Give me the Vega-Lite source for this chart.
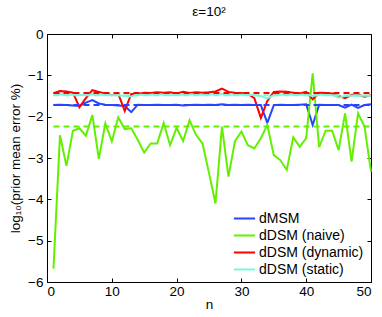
{
  "$schema": "https://vega.github.io/schema/vega-lite/v6.json",
  "width": 324,
  "height": 248,
  "autosize": {"type": "none"},
  "padding": {"left": 47, "top": 34, "right": 11, "bottom": 35},
  "background": "white",
  "title": {"text": "ε=10²", "fontSize": 13.5, "fontWeight": "normal", "font": "Liberation Sans", "color": "black", "offset": 9},
  "config": {
    "view": {"stroke": "black", "strokeWidth": 1},
    "axis": {"domain": false, "grid": false, "tickColor": "black", "tickSize": -4, "labelFont": "Liberation Sans", "labelFontSize": 13.5, "labelColor": "black", "titleFont": "Liberation Sans", "titleFontSize": 13.5, "titleFontWeight": "normal", "titleColor": "black"}
  },
  "datasets": {
    "lines": [
      {"n":1,"series":"dMSM","value":-1.72},{"n":2,"series":"dMSM","value":-1.71},{"n":3,"series":"dMSM","value":-1.72},{"n":4,"series":"dMSM","value":-1.73},{"n":5,"series":"dMSM","value":-1.74},{"n":6,"series":"dMSM","value":-1.66},{"n":7,"series":"dMSM","value":-1.6},{"n":8,"series":"dMSM","value":-1.68},{"n":9,"series":"dMSM","value":-1.71},{"n":10,"series":"dMSM","value":-1.72},
      {"n":11,"series":"dMSM","value":-1.73},{"n":12,"series":"dMSM","value":-1.74},{"n":13,"series":"dMSM","value":-1.89},{"n":14,"series":"dMSM","value":-1.71},{"n":15,"series":"dMSM","value":-1.72},{"n":16,"series":"dMSM","value":-1.72},{"n":17,"series":"dMSM","value":-1.71},{"n":18,"series":"dMSM","value":-1.72},{"n":19,"series":"dMSM","value":-1.72},{"n":20,"series":"dMSM","value":-1.71},
      {"n":21,"series":"dMSM","value":-1.73},{"n":22,"series":"dMSM","value":-1.72},{"n":23,"series":"dMSM","value":-1.71},{"n":24,"series":"dMSM","value":-1.72},{"n":25,"series":"dMSM","value":-1.71},{"n":26,"series":"dMSM","value":-1.72},{"n":27,"series":"dMSM","value":-1.7},{"n":28,"series":"dMSM","value":-1.72},{"n":29,"series":"dMSM","value":-1.71},{"n":30,"series":"dMSM","value":-1.72},
      {"n":31,"series":"dMSM","value":-1.71},{"n":32,"series":"dMSM","value":-1.72},{"n":33,"series":"dMSM","value":-1.72},{"n":34,"series":"dMSM","value":-2.15},{"n":35,"series":"dMSM","value":-1.72},{"n":36,"series":"dMSM","value":-1.71},{"n":37,"series":"dMSM","value":-1.72},{"n":38,"series":"dMSM","value":-1.72},{"n":39,"series":"dMSM","value":-1.71},{"n":40,"series":"dMSM","value":-1.7},
      {"n":41,"series":"dMSM","value":-2.2},{"n":42,"series":"dMSM","value":-1.71},{"n":43,"series":"dMSM","value":-1.72},{"n":44,"series":"dMSM","value":-1.72},{"n":45,"series":"dMSM","value":-1.72},{"n":46,"series":"dMSM","value":-1.78},{"n":47,"series":"dMSM","value":-1.71},{"n":48,"series":"dMSM","value":-1.79},{"n":49,"series":"dMSM","value":-1.72},{"n":50,"series":"dMSM","value":-1.7},

      {"n":1,"series":"dDSM (naive)","value":-5.68},{"n":2,"series":"dDSM (naive)","value":-2.45},{"n":3,"series":"dDSM (naive)","value":-3.19},{"n":4,"series":"dDSM (naive)","value":-2.34},{"n":5,"series":"dDSM (naive)","value":-2.28},{"n":6,"series":"dDSM (naive)","value":-2.46},{"n":7,"series":"dDSM (naive)","value":-1.96},{"n":8,"series":"dDSM (naive)","value":-3.02},{"n":9,"series":"dDSM (naive)","value":-2.16},{"n":10,"series":"dDSM (naive)","value":-2.6},
      {"n":11,"series":"dDSM (naive)","value":-2.02},{"n":12,"series":"dDSM (naive)","value":-2.3},{"n":13,"series":"dDSM (naive)","value":-2.28},{"n":14,"series":"dDSM (naive)","value":-2.56},{"n":15,"series":"dDSM (naive)","value":-2.87},{"n":16,"series":"dDSM (naive)","value":-2.65},{"n":17,"series":"dDSM (naive)","value":-2.65},{"n":18,"series":"dDSM (naive)","value":-2.15},{"n":19,"series":"dDSM (naive)","value":-2.69},{"n":20,"series":"dDSM (naive)","value":-2.27},
      {"n":21,"series":"dDSM (naive)","value":-2.59},{"n":22,"series":"dDSM (naive)","value":-2.09},{"n":23,"series":"dDSM (naive)","value":-2.44},{"n":24,"series":"dDSM (naive)","value":-2.65},{"n":25,"series":"dDSM (naive)","value":-3.36},{"n":26,"series":"dDSM (naive)","value":-4.1},{"n":27,"series":"dDSM (naive)","value":-2.24},{"n":28,"series":"dDSM (naive)","value":-3.45},{"n":29,"series":"dDSM (naive)","value":-2.6},{"n":30,"series":"dDSM (naive)","value":-2.36},
      {"n":31,"series":"dDSM (naive)","value":-2.69},{"n":32,"series":"dDSM (naive)","value":-2.77},{"n":33,"series":"dDSM (naive)","value":-2.52},{"n":34,"series":"dDSM (naive)","value":-2.2},{"n":35,"series":"dDSM (naive)","value":-2.93},{"n":36,"series":"dDSM (naive)","value":-3.05},{"n":37,"series":"dDSM (naive)","value":-3.29},{"n":38,"series":"dDSM (naive)","value":-2.5},{"n":39,"series":"dDSM (naive)","value":-2.73},{"n":40,"series":"dDSM (naive)","value":-2.52},
      {"n":41,"series":"dDSM (naive)","value":-0.95},{"n":42,"series":"dDSM (naive)","value":-2.74},{"n":43,"series":"dDSM (naive)","value":-2.34},{"n":44,"series":"dDSM (naive)","value":-2.34},{"n":45,"series":"dDSM (naive)","value":-2.81},{"n":46,"series":"dDSM (naive)","value":-1.92},{"n":47,"series":"dDSM (naive)","value":-3.09},{"n":48,"series":"dDSM (naive)","value":-1.92},{"n":49,"series":"dDSM (naive)","value":-2.24},{"n":50,"series":"dDSM (naive)","value":-3.33},

      {"n":1,"series":"dDSM (dynamic)","value":-1.43},{"n":2,"series":"dDSM (dynamic)","value":-1.38},{"n":3,"series":"dDSM (dynamic)","value":-1.39},{"n":4,"series":"dDSM (dynamic)","value":-1.42},{"n":5,"series":"dDSM (dynamic)","value":-1.77},{"n":6,"series":"dDSM (dynamic)","value":-1.55},{"n":7,"series":"dDSM (dynamic)","value":-1.36},{"n":8,"series":"dDSM (dynamic)","value":-1.4},{"n":9,"series":"dDSM (dynamic)","value":-1.44},{"n":10,"series":"dDSM (dynamic)","value":-1.48},
      {"n":11,"series":"dDSM (dynamic)","value":-1.45},{"n":12,"series":"dDSM (dynamic)","value":-1.86},{"n":13,"series":"dDSM (dynamic)","value":-1.45},{"n":14,"series":"dDSM (dynamic)","value":-1.45},{"n":15,"series":"dDSM (dynamic)","value":-1.42},{"n":16,"series":"dDSM (dynamic)","value":-1.43},{"n":17,"series":"dDSM (dynamic)","value":-1.41},{"n":18,"series":"dDSM (dynamic)","value":-1.42},{"n":19,"series":"dDSM (dynamic)","value":-1.41},{"n":20,"series":"dDSM (dynamic)","value":-1.44},
      {"n":21,"series":"dDSM (dynamic)","value":-1.4},{"n":22,"series":"dDSM (dynamic)","value":-1.43},{"n":23,"series":"dDSM (dynamic)","value":-1.41},{"n":24,"series":"dDSM (dynamic)","value":-1.42},{"n":25,"series":"dDSM (dynamic)","value":-1.41},{"n":26,"series":"dDSM (dynamic)","value":-1.39},{"n":27,"series":"dDSM (dynamic)","value":-1.32},{"n":28,"series":"dDSM (dynamic)","value":-1.4},{"n":29,"series":"dDSM (dynamic)","value":-1.42},{"n":30,"series":"dDSM (dynamic)","value":-1.43},
      {"n":31,"series":"dDSM (dynamic)","value":-1.45},{"n":32,"series":"dDSM (dynamic)","value":-1.55},{"n":33,"series":"dDSM (dynamic)","value":-2.03},{"n":34,"series":"dDSM (dynamic)","value":-1.62},{"n":35,"series":"dDSM (dynamic)","value":-1.4},{"n":36,"series":"dDSM (dynamic)","value":-1.39},{"n":37,"series":"dDSM (dynamic)","value":-1.4},{"n":38,"series":"dDSM (dynamic)","value":-1.42},{"n":39,"series":"dDSM (dynamic)","value":-1.44},{"n":40,"series":"dDSM (dynamic)","value":-1.4},
      {"n":41,"series":"dDSM (dynamic)","value":-1.58},{"n":42,"series":"dDSM (dynamic)","value":-1.42},{"n":43,"series":"dDSM (dynamic)","value":-1.43},{"n":44,"series":"dDSM (dynamic)","value":-1.44},{"n":45,"series":"dDSM (dynamic)","value":-1.5},{"n":46,"series":"dDSM (dynamic)","value":-1.55},{"n":47,"series":"dDSM (dynamic)","value":-1.47},{"n":48,"series":"dDSM (dynamic)","value":-1.47},{"n":49,"series":"dDSM (dynamic)","value":-1.52},{"n":50,"series":"dDSM (dynamic)","value":-1.48},

      {"n":1,"series":"dDSM (static)","value":-1.47},{"n":2,"series":"dDSM (static)","value":-1.46},{"n":3,"series":"dDSM (static)","value":-1.47},{"n":4,"series":"dDSM (static)","value":-1.47},{"n":5,"series":"dDSM (static)","value":-1.48},{"n":6,"series":"dDSM (static)","value":-1.47},{"n":7,"series":"dDSM (static)","value":-1.46},{"n":8,"series":"dDSM (static)","value":-1.47},{"n":9,"series":"dDSM (static)","value":-1.47},{"n":10,"series":"dDSM (static)","value":-1.48},
      {"n":11,"series":"dDSM (static)","value":-1.48},{"n":12,"series":"dDSM (static)","value":-1.5},{"n":13,"series":"dDSM (static)","value":-1.51},{"n":14,"series":"dDSM (static)","value":-1.47},{"n":15,"series":"dDSM (static)","value":-1.47},{"n":16,"series":"dDSM (static)","value":-1.47},{"n":17,"series":"dDSM (static)","value":-1.46},{"n":18,"series":"dDSM (static)","value":-1.47},{"n":19,"series":"dDSM (static)","value":-1.48},{"n":20,"series":"dDSM (static)","value":-1.47},
      {"n":21,"series":"dDSM (static)","value":-1.47},{"n":22,"series":"dDSM (static)","value":-1.46},{"n":23,"series":"dDSM (static)","value":-1.47},{"n":24,"series":"dDSM (static)","value":-1.47},{"n":25,"series":"dDSM (static)","value":-1.47},{"n":26,"series":"dDSM (static)","value":-1.46},{"n":27,"series":"dDSM (static)","value":-1.46},{"n":28,"series":"dDSM (static)","value":-1.47},{"n":29,"series":"dDSM (static)","value":-1.47},{"n":30,"series":"dDSM (static)","value":-1.47},
      {"n":31,"series":"dDSM (static)","value":-1.47},{"n":32,"series":"dDSM (static)","value":-1.48},{"n":33,"series":"dDSM (static)","value":-1.5},{"n":34,"series":"dDSM (static)","value":-1.56},{"n":35,"series":"dDSM (static)","value":-1.48},{"n":36,"series":"dDSM (static)","value":-1.47},{"n":37,"series":"dDSM (static)","value":-1.47},{"n":38,"series":"dDSM (static)","value":-1.47},{"n":39,"series":"dDSM (static)","value":-1.47},{"n":40,"series":"dDSM (static)","value":-1.47},
      {"n":41,"series":"dDSM (static)","value":-1.5},{"n":42,"series":"dDSM (static)","value":-1.47},{"n":43,"series":"dDSM (static)","value":-1.47},{"n":44,"series":"dDSM (static)","value":-1.48},{"n":45,"series":"dDSM (static)","value":-1.54},{"n":46,"series":"dDSM (static)","value":-1.5},{"n":47,"series":"dDSM (static)","value":-1.49},{"n":48,"series":"dDSM (static)","value":-1.5},{"n":49,"series":"dDSM (static)","value":-1.49},{"n":50,"series":"dDSM (static)","value":-1.5}
    ],
    "means": [
      {"series":"dMSM","mean":-1.72},
      {"series":"dDSM (naive)","mean":-2.24},
      {"series":"dDSM (dynamic)","mean":-1.43},
      {"series":"dDSM (static)","mean":-1.48}
    ]
  },
  "layer": [
    {
      "data": {"name": "lines"},
      "mark": {"type": "line", "strokeWidth": 2},
      "encoding": {
        "x": {"field": "n", "type": "quantitative", "scale": {"domain": [0, 50], "nice": false}, "axis": {"values": [0,10,20,30,40,50], "title": "n", "labelPadding": 6, "titlePadding": 0}},
        "y": {"field": "value", "type": "quantitative", "scale": {"domain": [-6, 0], "nice": false, "zero": false}, "axis": {"values": [-6,-5,-4,-3,-2,-1,0], "title": "log₁₀(prior mean error %)", "labelPadding": 8, "titlePadding": 5}},
        "color": {"field": "series", "type": "nominal",
          "scale": {"domain": ["dMSM", "dDSM (naive)", "dDSM (dynamic)", "dDSM (static)"], "range": ["#2643ff", "#62f000", "#ff0000", "#7ff5d8"]},
          "legend": {"title": null, "orient": "none", "legendX": 188, "legendY": 175, "symbolType": "M-1.25,0H1.25", "symbolSize": 289, "symbolStrokeWidth": 2, "labelFont": "Liberation Sans", "labelFontSize": 14, "labelColor": "black", "labelOffset": 5, "rowPadding": 0, "labelLimit": 200}
        }
      }
    },
    {
      "data": {"name": "means"},
      "mark": {"type": "rule", "strokeDash": [6, 4], "strokeWidth": 2},
      "encoding": {
        "x": {"datum": 1, "type": "quantitative", "axis": {"orient": "top", "values": [0,10,20,30,40,50], "labels": false, "title": null}},
        "x2": {"datum": 50},
        "y": {"field": "mean", "type": "quantitative", "axis": {"orient": "right", "values": [-6,-5,-4,-3,-2,-1,0], "labels": false, "title": null}},
        "color": {"field": "series", "type": "nominal", "legend": null}
      }
    }
  ],
  "resolve": {"axis": {"x": "independent", "y": "independent"}}
}
